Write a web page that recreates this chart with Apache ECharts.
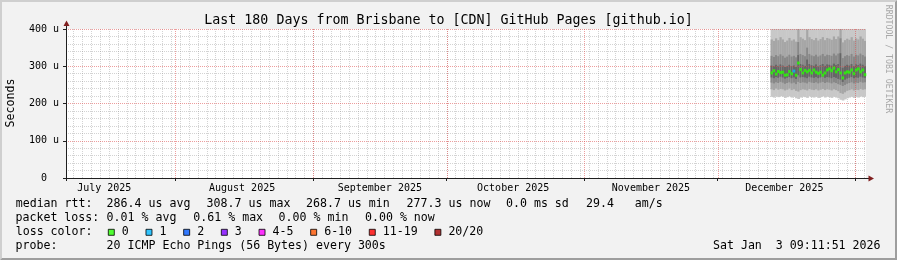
<!DOCTYPE html>
<html><head><meta charset="utf-8">
<script src="https://cdn.jsdelivr.net/npm/echarts@6/dist/echarts.min.js"></script>
<style>html,body{margin:0;padding:0;background:#f2f2f2}#c{width:897px;height:260px}</style>
</head><body><div id="c"></div>
<script>
// ---------------- data ----------------
const titleText = 'Last 180 Days from Brisbane to [CDN] GitHub Pages [github.io]';
const endTime = [2026, 0, 3, 9, 11, 51];
const rangeDays = 180;
const monthLabels = ['July 2025', 'August 2025', 'September 2025', 'October 2025', 'November 2025', 'December 2025'];
const monthLabelDays = [[2025, 6, 16], [2025, 7, 16], [2025, 8, 16], [2025, 9, 16], [2025, 10, 16], [2025, 11, 16]];
const monthStarts = [[2025, 7, 1], [2025, 8, 1], [2025, 9, 1], [2025, 10, 1], [2025, 11, 1], [2026, 0, 1]];
const minorGridFirst = [2025, 6, 9];
const minorGridStepDays = 2;
const yMax = 400, yStep = 100, yMinorSplit = 5;

const smokeFirst = [2025, 11, 12, 22, 0, 0];
const smokeStepHours = 12;
const medianRtt = [282,288,279,286,283,284,276,277,286,280, 287,276,308.7,291,282,289,285,289,282,290,
                   284,281,284,276,282,290,293,288,295,285, 291,282,268.7,282,285,284,290,280,290,293,
                   285,290,277.3];
const lossCount = [0,0,0,0,0,0,0,0,0,0, 1,0,0,0,0,0,0,0,0,0, 0,0,0,0,0,0,0,0,0,0, 0,0,0,0,0,0,0,0,0,0, 0,0,0];
const smokeMin = [218,216,219,217,220,218,215,217,219,216, 218,214,212,216,218,217,215,219,217,216,
                  218,215,217,219,216,218,217,215,218,216, 214,210,208,211,214,216,218,215,217,216, 219,217,218];
const smokeLo2 = [238,236,240,237,239,238,235,237,240,236, 238,234,232,236,238,237,235,239,237,236,
                  238,235,237,239,236,238,237,235,238,236, 233,228,226,230,234,236,238,235,237,236, 239,237,238];
const smokeLo3 = [256,254,257,255,258,256,253,255,257,254, 256,252,258,255,257,256,254,258,256,255,
                  257,254,256,258,255,257,256,254,257,255, 252,250,247,250,253,255,257,254,256,255, 258,256,257];
const smokeLo4 = [270,268,271,269,272,270,267,269,271,268, 270,266,276,270,271,270,268,272,270,269,
                  271,268,270,272,269,271,270,268,271,269, 266,264,258,264,267,269,271,268,270,269, 272,270,269];
const smokeHi4 = [302,300,304,301,305,302,298,300,304,300, 302,298,330,306,304,301,318,306,303,301,
                  305,300,303,306,301,305,304,302,307,303, 306,335,296,301,304,302,306,300,305,303, 307,304,300];
const smokeHi3 = [328,325,330,327,332,328,323,326,331,326, 328,324,365,333,330,327,350,333,329,327,
                  331,326,329,333,327,331,330,328,334,329, 334,375,322,327,330,328,333,326,331,329, 334,330,326];
const smokeHi2 = [372,368,375,370,378,372,365,369,376,369, 372,366,420,378,374,370,398,378,373,370,
                  376,369,373,378,370,376,374,371,380,373, 380,430,364,370,374,371,378,369,375,372, 380,374,368];
const smokeMax = [450,440,460,445,470,455,430,440,465,440, 450,435,600,470,455,445,520,470,450,445,
                  460,440,450,470,445,460,455,450,475,450, 480,620,430,445,455,450,470,440,460,450, 475,455,440];

const lossNames = ['0', '1', '2', '3', '4-5', '6-10', '11-19', '20/20'];
const lossUpper = [0, 1, 2, 3, 5, 10, 19, 20];

const legendRows = [
  [['median rtt:', 15.7], ['286.4 us avg', 106.6], ['308.7 us max', 206.6], ['268.7 us min', 306.0],
   ['277.3 us now', 406.6], ['0.0 ms sd', 506.0], ['29.4   am/s', 586.0]],
  [['packet loss:', 15.5], ['0.01 % avg', 106.6], ['0.61 % max', 193.3], ['0.00 % min', 278.6], ['0.00 % now', 365.0]],
  [['loss color:', 15.7]],
  [['probe:', 15.5], ['20 ICMP Echo Pings (56 Bytes) every 300s', 106.6]]
];
const stampText = 'Sat Jan  3 09:11:51 2026';

// ---------------- styles / layout ----------------
const MONO = 'DejaVu Sans Mono';
const lossColors = ['#26ff00', '#00b8ff', '#0059ff', '#7e00ff', '#ff00ff', '#ff5500', '#ff0000', '#a10000'];
const SMOKE_SHADES = ['#c8c8c8', '#a6a6a6', '#888888', '#666666'];
const GRID_L = 66, GRID_T = 29, GRID_W = 800, GRID_H = 149;
const ROW_Y = [204.3, 218.3, 232.3, 246.3];
const MINOR_COLOR = 'rgba(140,140,140,0.38)';
const MAJOR_COLOR = 'rgba(222,79,79,0.55)';
const ARROW = '#801f1f', AXIS = '#1f1f1f';

// ---------------- build ----------------
const DAY = 86400000, HOUR = 3600000;
const ts = a => new Date(a[0], a[1], a[2], a[3] || 0, a[4] || 0, a[5] || 0).getTime();
const END = ts(endTime);
const START = END - rangeDays * DAY;
const monthLabelTs = monthLabelDays.map(ts);
const monthStartTs = monthStarts.map(ts);
const minorGridTs = [];
for (let t = ts(minorGridFirst); t < END; t += minorGridStepDays * DAY) minorGridTs.push([t, 0]);
const SMOKE_STEP = smokeStepHours * HOUR;
const smokeT0 = ts(smokeFirst);
const smokeData = medianRtt.map((_, i) => [smokeT0 + i * SMOKE_STEP, smokeMin[i], smokeLo2[i], smokeLo3[i], smokeLo4[i],
                                           smokeHi4[i], smokeHi3[i], smokeHi2[i], smokeMax[i]]);

function bucketOf(loss) { for (let k = 0; k < lossUpper.length; k++) if (loss <= lossUpper[k]) return k; return lossUpper.length - 1; }

function renderSmoke(params, api) {
  const cs = params.coordSys;
  const t = api.value(0);
  const xa = api.coord([t, 0])[0];
  const xb = api.coord([t + SMOKE_STEP, 0])[0];
  const box = {x: cs.x, y: cs.y, width: cs.width, height: cs.height};
  const children = [];
  for (let k = 0; k < 4; k++) {
    const lo = api.value(1 + k), hi = api.value(8 - k);
    const yTop = api.coord([t, hi])[1], yBot = api.coord([t, lo])[1];
    const r = echarts.graphic.clipRectByRect({x: xa, y: yTop, width: xb - xa + 0.5, height: yBot - yTop}, box);
    if (r) children.push({type: 'rect', shape: r, style: {fill: SMOKE_SHADES[k]}});
  }
  return {type: 'group', children};
}
function vLine(color) {
  return function (params, api) {
    const cs = params.coordSys;
    const x = Math.round(api.coord([api.value(0), 0])[0]) + 0.5;
    if (x < cs.x || x > cs.x + cs.width) return;
    return {type: 'line', shape: {x1: x, y1: cs.y, x2: x, y2: cs.y + cs.height},
            style: {stroke: color, lineWidth: 1, lineDash: [1, 1]}};
  };
}

const medianSeries = lossNames.map((name, k) => ({
  type: 'scatter', name, z: 4, silent: true, symbol: 'rect', symbolSize: [2.6, 3],
  itemStyle: {color: lossColors[k]},
  data: medianRtt.map((v, i) => [smokeT0 + i * SMOKE_STEP + SMOKE_STEP / 2, v, i]).filter(p => bucketOf(lossCount[p[2]]) === k).map(p => [p[0], p[1]])
}));

function txt(x, y, s, extra) {
  return {type: 'text', x, y, silent: true, z: 50,
    style: Object.assign({text: s, fill: '#000', font: '11.6px "' + MONO + '"', align: 'left', verticalAlign: 'middle',
      textAlign: 'left', textVerticalAlign: 'middle'}, extra || {})};
}
const graphics = [
  {type: 'polygon', silent: true, shape: {points: [[0,0],[897,0],[895,2],[2,2],[2,258],[0,260]]}, style: {fill: '#cfcfcf'}},
  {type: 'polygon', silent: true, shape: {points: [[897,0],[897,260],[0,260],[2,258],[895,258],[895,2]]}, style: {fill: '#9e9e9e'}},
  {type: 'line', silent: true, z: 20, shape: {x1: GRID_L + 0.5, y1: GRID_T + GRID_H, x2: GRID_L + 0.5, y2: GRID_T + GRID_H + 3}, style: {stroke: AXIS, lineWidth: 1}},
  {type: 'line', silent: true, z: 20, shape: {x1: GRID_L + 0.5, y1: GRID_T - 4, x2: GRID_L + 0.5, y2: GRID_T}, style: {stroke: AXIS, lineWidth: 1}},
  {type: 'line', silent: true, z: 20, shape: {x1: GRID_L - 3, y1: GRID_T + GRID_H + 0.5, x2: GRID_L, y2: GRID_T + GRID_H + 0.5}, style: {stroke: AXIS, lineWidth: 1}},
  {type: 'line', silent: true, z: 20, shape: {x1: GRID_L + GRID_W, y1: GRID_T + GRID_H + 0.5, x2: GRID_L + GRID_W + 3, y2: GRID_T + GRID_H + 0.5}, style: {stroke: AXIS, lineWidth: 1}},
  {type: 'polygon', silent: true, z: 21, shape: {points: [[GRID_L + 0.5, GRID_T - 8.5], [GRID_L - 2.5, GRID_T - 3], [GRID_L + 3.5, GRID_T - 3]]}, style: {fill: ARROW}},
  {type: 'polygon', silent: true, z: 21, shape: {points: [[GRID_L + GRID_W + 8, GRID_T + GRID_H + 0.5], [GRID_L + GRID_W + 2.5, GRID_T + GRID_H - 2.5], [GRID_L + GRID_W + 2.5, GRID_T + GRID_H + 3.5]]}, style: {fill: ARROW}},
  Object.assign(txt(10.7, 103, 'Seconds', {align: 'center', textAlign: 'center'}), {rotation: Math.PI / 2}),
  Object.assign(txt(888.3, 59, 'RRDTOOL / TOBI OETIKER', {align: 'center', textAlign: 'center', fill: '#a8a8a8', font: '8.2px "' + MONO + '"'}), {rotation: -Math.PI / 2}),
  txt(880.5, ROW_Y[3], stampText, {align: 'right', textAlign: 'right'})
];
legendRows.forEach((row, r) => row.forEach(([s, x]) => graphics.push(txt(x, ROW_Y[r], s))));

const chart = echarts.init(document.getElementById('c'), null, {renderer: 'canvas'});
chart.setOption({
  animation: false,
  backgroundColor: '#f2f2f2',
  title: {text: titleText, left: 'center', top: 14, padding: 0,
    textStyle: {fontFamily: MONO, fontSize: 13.3, fontWeight: 'normal', color: '#000'}},
  grid: {left: GRID_L, top: GRID_T, width: GRID_W, height: GRID_H, show: true, backgroundColor: '#ffffff', borderWidth: 0, containLabel: false},
  legend: {data: lossNames, left: 107.8, top: 225.3, orient: 'horizontal', padding: 0, itemWidth: 6, itemHeight: 6,
    itemGap: 16.7, icon: 'rect', selectedMode: false, itemStyle: {borderColor: '#000', borderWidth: 1},
    textStyle: {fontFamily: MONO, fontSize: 11.6, color: '#000', padding: [0, 0, 0, 2.5], lineHeight: 14}},
  xAxis: [{type: 'value', min: START, max: END, z: 5, scale: true,
    axisLine: {show: true, onZero: false, lineStyle: {color: AXIS, width: 1}},
    axisTick: {show: true, customValues: monthStartTs, length: 3, lineStyle: {color: AXIS}},
    axisLabel: {show: true, customValues: monthLabelTs, margin: 5.5, fontFamily: MONO, fontSize: 10, color: '#000',
      formatter: v => { let best = 0; monthLabelTs.forEach((t, i) => { if (Math.abs(t - v) < Math.abs(monthLabelTs[best] - v)) best = i; }); return monthLabels[best]; }},
    splitLine: {show: false}}],
  yAxis: [
    {type: 'value', min: 0, max: yMax, interval: yStep, position: 'left', z: 0,
      axisLine: {show: false}, axisTick: {show: true, length: 3, lineStyle: {color: AXIS}},
      axisLabel: {formatter: v => v === 0 ? '0' : v + ' u', align: 'center', margin: 22, fontFamily: MONO, fontSize: 10, color: '#000'},
      splitLine: {show: false}, minorTick: {show: false, splitNumber: yMinorSplit},
      minorSplitLine: {show: true, lineStyle: {color: MINOR_COLOR, width: 1, type: [1, 1]}}},
    {type: 'value', min: 0, max: yMax, interval: yStep, position: 'left', z: 3,
      axisLine: {show: true, onZero: false, lineStyle: {color: AXIS, width: 1}}, axisTick: {show: false}, axisLabel: {show: false},
      splitLine: {show: true, lineStyle: {color: MAJOR_COLOR, width: 1, type: [1, 1]}}}
  ],
  series: [
    {type: 'custom', name: 'minorGrid', z: 1, silent: true, renderItem: vLine(MINOR_COLOR), data: minorGridTs, encode: {x: 0, y: 1}},
    {type: 'custom', name: 'smoke', z: 2, silent: true, renderItem: renderSmoke, data: smokeData, encode: {x: 0, y: [1,2,3,4,5,6,7,8]}},
    {type: 'custom', name: 'majorGrid', z: 3, silent: true, renderItem: vLine(MAJOR_COLOR), data: monthStartTs.map(t => [t, 0]), encode: {x: 0, y: 1}}
  ].concat(medianSeries),
  graphic: {elements: graphics}
});
</script></body></html>
